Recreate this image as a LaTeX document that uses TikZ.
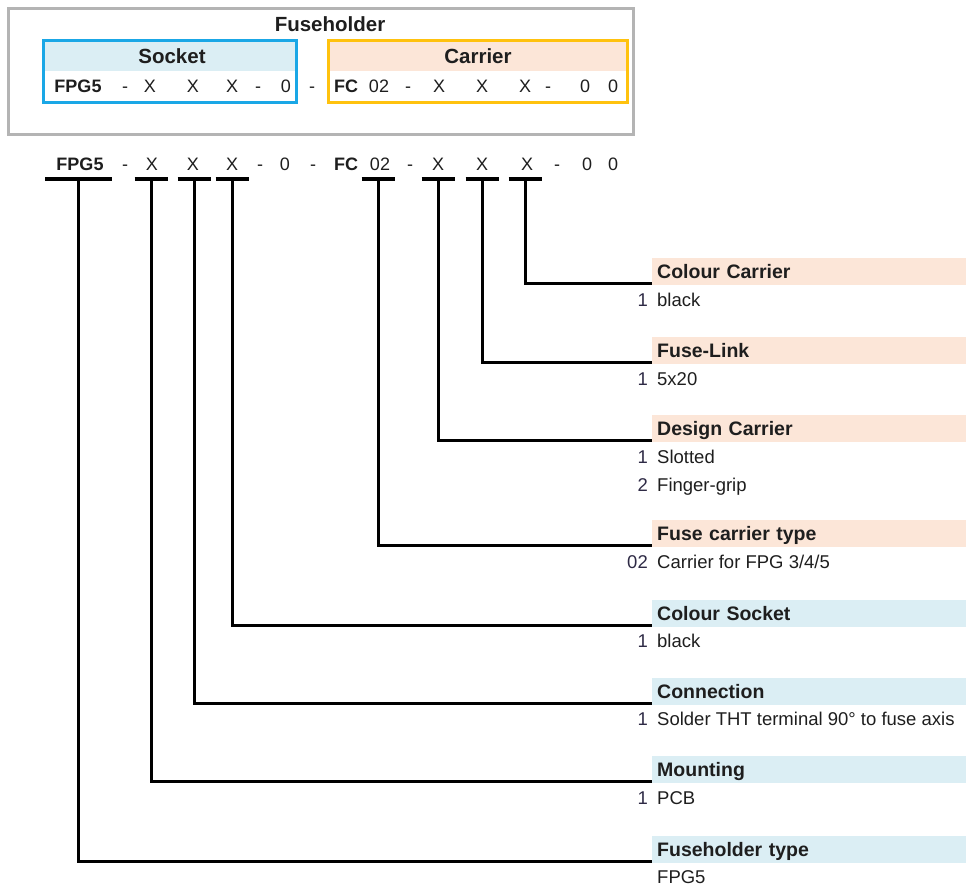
\documentclass[tikz,border=0pt]{standalone}
\usepackage{fontspec}
\setmainfont{Liberation Sans}
\definecolor{txt}{HTML}{1E1E1E}
\definecolor{numc}{HTML}{2E2A45}
\definecolor{graybox}{HTML}{B4B4B4}
\definecolor{sockc}{HTML}{1AA7E6}
\definecolor{carrc}{HTML}{FFC20E}
\definecolor{blfill}{HTML}{DBEEF4}
\definecolor{orfill}{HTML}{FCE6D8}
\begin{document}
\begin{tikzpicture}[x=1pt,y=-1pt,
  hdr/.style={inner sep=0pt, text=txt, font=\fontsize{20.5}{24}\selectfont\bfseries},
  code/.style={anchor=base, inner sep=0pt, text=txt, font=\fontsize{18}{20}\selectfont},
  codeb/.style={code, font=\fontsize{18}{20}\selectfont\bfseries},
  codebar/.style={line width=4.5pt, black},
  conn/.style={line width=3pt, black, line join=miter},
  band/.style={anchor=south west, minimum width=314pt, minimum height=27pt, inner xsep=5pt, inner ysep=0pt,
     text width=304pt, align=left, text height=15pt, text depth=0pt, text=txt,
     font=\fontsize{19.5}{22}\selectfont\bfseries},
  oband/.style={band, fill=orfill},
  bband/.style={band, fill=blfill},
  num/.style={anchor=base east, inner sep=0pt, text=numc, font=\fontsize{18.5}{20}\selectfont},
  sub/.style={anchor=base west, inner sep=0pt, text=txt, font=\fontsize{18.5}{20}\selectfont}
]
\useasboundingbox (0,0) rectangle (966,887);

% ---------- top box ----------
\draw[line width=3pt, graybox] (8,8) rectangle (633,134);
\node[hdr] (title) at (330,24) {Fuseholder};
\fill[blfill] (43,40) rectangle (296,71);
\draw[line width=3pt, sockc] (43,40) rectangle (296,102);
\node[hdr] (sock) at (172,56) {Socket};
\fill[orfill] (328,40) rectangle (627,71);
\draw[line width=3pt, carrc] (328,40) rectangle (627,102);
\node[hdr] (carr) at (478,56) {Carrier};

\node[codeb] (t1) at (78,92) {FPG5};
\node[code] (t2) at (125,92) {-};
\node[code] (t3) at (150,92) {X};
\node[code] (t4) at (193,92) {X};
\node[code] (t5) at (232,92) {X};
\node[code] (t6) at (258,92) {-};
\node[code] (t7) at (286,92) {0};
\node[code] (t8) at (312,92) {-};
\node[codeb] (t9) at (346,92) {FC};
\node[code] (t10) at (379,92) {02};
\node[code] (t11) at (408,92) {-};
\node[code] (t12) at (439,92) {X};
\node[code] (t13) at (482,92) {X};
\node[code] (t14) at (525,92) {X};
\node[code] (t15) at (548,92) {-};
\node[code] (t16) at (585,92) {0};
\node[code] (t17) at (613,92) {0};

% ---------- code row ----------
\node[codeb] (r1) at (80,170) {FPG5};
\node[code] (r2) at (125,170) {-};
\node[code] (r3) at (152,170) {X};
\node[code] (r4) at (193,170) {X};
\node[code] (r5) at (232,170) {X};
\node[code] (r6) at (260,170) {-};
\node[code] (r7) at (285,170) {0};
\node[code] (r8) at (313,170) {-};
\node[codeb] (r9) at (346,170) {FC};
\node[code] (r10) at (380,170) {02};
\node[code] (r11) at (410,170) {-};
\node[code] (r12) at (438,170) {X};
\node[code] (r13) at (482,170) {X};
\node[code] (r14) at (527,170) {X};
\node[code] (r15) at (557,170) {-};
\node[code] (r16) at (587,170) {0};
\node[code] (r17) at (613,170) {0};

% bar anchors
\coordinate (b1) at (78,179);
\coordinate (b3) at (151,179);
\coordinate (b4) at (194,179);
\coordinate (b5) at (232,179);
\coordinate (b10) at (378,179);
\coordinate (b12) at (438,179);
\coordinate (b13) at (482,179);
\coordinate (b14) at (525,179);

\draw[codebar] (45,179) -- (112,179);
\foreach \c in {b3,b4,b5,b10,b12,b13,b14}
  \draw[codebar] ([xshift=-16.5pt]\c) -- ([xshift=16.5pt]\c);

% ---------- legend ----------
\node[oband] (h1) at (652,285) {Colour Carrier};
\node[num] (n1) at (648,306) {1};
\node[sub] (s1) at (657,306) {black};

\node[oband] (h2) at (652,364) {Fuse-Link};
\node[num] (n2) at (648,385) {1};
\node[sub] (s2) at (657,385) {5x20};

\node[oband] (h3) at (652,442) {Design Carrier};
\node[num] (n3) at (648,463) {1};
\node[sub] (s3) at (657,463) {Slotted};
\node[num] (n3b) at (648,491) {2};
\node[sub] (s3b) at (657,491) {Finger-grip};

\node[oband] (h4) at (652,547) {Fuse carrier type};
\node[num] (n4) at (648,568) {02};
\node[sub] (s4) at (657,568) {Carrier for FPG 3/4/5};

\node[bband] (h5) at (652,627) {Colour Socket};
\node[num] (n5) at (648,647) {1};
\node[sub] (s5) at (657,647) {black};

\node[bband] (h6) at (652,705) {Connection};
\node[num] (n6) at (648,725) {1};
\node[sub] (s6) at (657,725) {Solder THT terminal 90° to fuse axis};

\node[bband] (h7) at (652,783) {Mounting};
\node[num] (n7) at (648,804) {1};
\node[sub] (s7) at (657,804) {PCB};

\node[bband] (h8) at (652,863) {Fuseholder type};
\node[sub] (s8) at (657,883) {FPG5};

% ---------- connectors ----------
\draw[conn] (b14) |- ([yshift=1.5pt]h1.south west);
\draw[conn] (b13) |- ([yshift=1.5pt]h2.south west);
\draw[conn] (b12) |- ([yshift=1.5pt]h3.south west);
\draw[conn] (b10) |- ([yshift=1.5pt]h4.south west);
\draw[conn] (b5)  |- ([yshift=1.5pt]h5.south west);
\draw[conn] (b4)  |- ([yshift=1.5pt]h6.south west);
\draw[conn] (b3)  |- ([yshift=1.5pt]h7.south west);
\draw[conn] (b1)  |- ([yshift=1.5pt]h8.south west);
\end{tikzpicture}
\end{document}
